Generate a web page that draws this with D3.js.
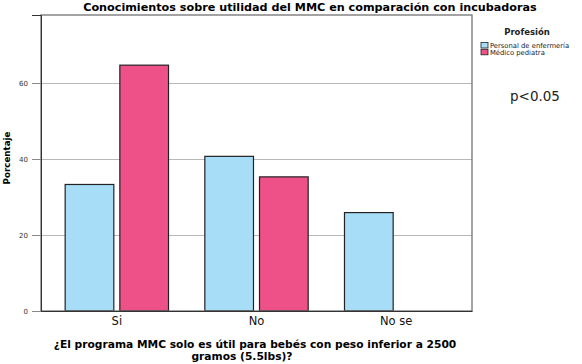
<!DOCTYPE html>
<html>
<head>
<meta charset="utf-8">
<script src="https://cdn.jsdelivr.net/npm/d3@7"></script>
<style>
  body { margin: 0; background: #fff; }
  text { font-family: "DejaVu Sans", sans-serif; }
</style>
</head>
<body>
<div id="container"></div>
<script>
const categories = ["Si", "No", "No se"];
const groups = ["Personal de enfermería", "Médico pediatra"];
const enfermeria = [33.3, 40.7, 25.9];
const pediatra = [64.7, 35.3, 0];
const yTicks = [0, 20, 40, 60];
const colors = ["#a7ddf7", "#ee5187"];

const width = 582;
const height = 364;
const plot = { left: 41, right: 472, top: 15, bottom: 311 };

const rows = categories.map((c, i) => ({
  category: c,
  values: [
    { group: groups[0], value: enfermeria[i] },
    { group: groups[1], value: pediatra[i] },
  ],
}));

// shrink or grow a text's font so that it spans the wanted width
function fit(sel, target) {
  sel.each(function () {
    const size = parseFloat(this.getAttribute("font-size"));
    const len = this.getComputedTextLength();
    if (len > 0) this.setAttribute("font-size", ((size * target) / len).toFixed(2));
  });
}

const svg = d3
  .select("#container")
  .append("svg")
  .attr("width", width)
  .attr("height", height);

const x0 = d3
  .scaleBand()
  .domain(categories)
  .range([plot.left, plot.right])
  .paddingInner(0)
  .paddingOuter(0.043);

const x1 = d3
  .scaleBand()
  .domain(groups)
  .range([x0.bandwidth() * 0.13, x0.bandwidth() * 0.87])
  .paddingInner(0.11);

const y = d3.scaleLinear().domain([0, 77.9]).range([plot.bottom, plot.top]);

// gridlines
svg
  .selectAll("line.grid")
  .data(yTicks.filter((t) => t > 0))
  .join("line")
  .attr("class", "grid")
  .attr("x1", plot.left)
  .attr("x2", plot.right)
  .attr("y1", (d) => Math.round(y(d)) + 0.5)
  .attr("y2", (d) => Math.round(y(d)) + 0.5)
  .attr("stroke", "#b8b8b8")
  .attr("stroke-width", 1.2);

// bars
svg
  .selectAll("g.cat")
  .data(rows)
  .join("g")
  .attr("class", "cat")
  .attr("transform", (d) => `translate(${x0(d.category)},0)`)
  .selectAll("rect")
  .data((d) => d.values.filter((v) => v.value > 0))
  .join("rect")
  .attr("x", (d) => x1(d.group))
  .attr("y", (d) => y(d.value))
  .attr("width", x1.bandwidth())
  .attr("height", (d) => y(0) - y(d.value))
  .attr("fill", (d) => colors[groups.indexOf(d.group)])
  .attr("stroke", "#222")
  .attr("stroke-width", 1.2);

// frame
svg
  .append("rect")
  .attr("x", plot.left)
  .attr("y", plot.top)
  .attr("width", plot.right - plot.left)
  .attr("height", plot.bottom - plot.top)
  .attr("fill", "none")
  .attr("stroke", "#666")
  .attr("stroke-width", 1.2);

// y axis
const yAxis = svg
  .append("g")
  .attr("transform", `translate(${plot.left},0)`)
  .call(d3.axisLeft(y).tickValues(yTicks).tickSize(9).tickPadding(4));
yAxis.select(".domain").attr("stroke", "#333");
yAxis.selectAll(".tick line").attr("stroke", "#888");
yAxis
  .selectAll(".tick text")
  .attr("font-family", "DejaVu Sans Condensed")
  .attr("font-size", 7)
  .attr("fill", "#333");

// x axis
const xAxis = svg
  .append("g")
  .attr("transform", `translate(0,${plot.bottom})`)
  .call(d3.axisBottom(x0).tickSize(0).tickPadding(6));
xAxis.select(".domain").attr("stroke", "#333").attr("stroke-width", 1.2);
xAxis
  .selectAll(".tick text")
  .attr("font-family", "DejaVu Sans Condensed")
  .attr("font-size", 11.5)
  .attr("fill", "#111");

// titles
svg
  .append("text")
  .attr("x", 310)
  .attr("y", 11)
  .attr("text-anchor", "middle")
  .attr("font-size", 11)
  .attr("font-weight", "bold")
  .text("Conocimientos sobre utilidad del MMC en comparación con incubadoras")
  .call(fit, 454);

svg
  .append("text")
  .attr("transform", "translate(10,158) rotate(-90)")
  .attr("text-anchor", "middle")
  .attr("font-size", 9)
  .attr("font-weight", "bold")
  .text("Porcentaje")
  .call(fit, 53);

const xTitle = [
  { text: "¿El programa MMC solo es útil para bebés con peso inferior a 2500", cx: 255, y: 348 },
  { text: "gramos (5.5lbs)?", cx: 242, y: 359.5 },
];
const xTitleText = svg
  .selectAll("text.xtitle")
  .data(xTitle)
  .join("text")
  .attr("class", "xtitle")
  .attr("x", (d) => d.cx)
  .attr("y", (d) => d.y)
  .attr("text-anchor", "middle")
  .attr("font-size", 10)
  .attr("font-weight", "bold")
  .text((d) => d.text);
fit(xTitleText.filter((d, i) => i === 0), 403);
xTitleText.attr("font-size", xTitleText.filter((d, i) => i === 0).attr("font-size"));

// legend
svg
  .append("text")
  .attr("x", 527)
  .attr("y", 35)
  .attr("text-anchor", "middle")
  .attr("font-family", "Open Sans")
  .attr("font-size", 8.5)
  .attr("font-weight", 600)
  .attr("fill", "#222")
  .text("Profesión");

const legend = svg
  .selectAll("g.legend")
  .data(groups)
  .join("g")
  .attr("class", "legend")
  .attr("transform", (d, i) => `translate(481,${42.5 + i * 6.8})`);
legend
  .append("rect")
  .attr("width", 7)
  .attr("height", 5.5)
  .attr("fill", (d, i) => colors[i])
  .attr("stroke", "#222")
  .attr("stroke-width", 0.8);
legend
  .append("text")
  .attr("x", 9)
  .attr("y", 5.3)
  .attr("font-size", 6.8)
  .attr("fill", "#222")
  .text((d) => d);

svg
  .append("text")
  .attr("x", 535)
  .attr("y", 101)
  .attr("text-anchor", "middle")
  .attr("font-size", 10)
  .attr("fill", "#222")
  .text("p<0.05")
  .call(fit, 50);
</script>
</body>
</html>
